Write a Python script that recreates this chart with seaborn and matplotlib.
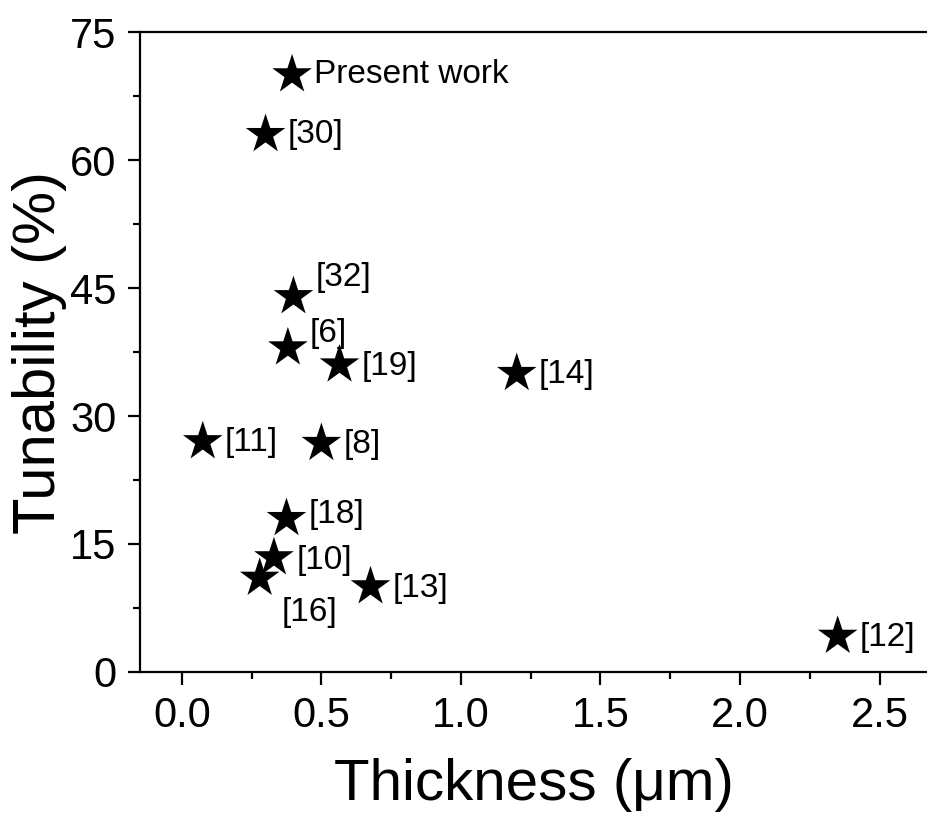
import matplotlib
matplotlib.use("Agg")
import matplotlib.pyplot as plt
from matplotlib.ticker import MultipleLocator, FormatStrFormatter
import seaborn as sns
import pandas as pd

# Film thickness (um) vs. tunability (%) with literature references
thickness = [0.395, 0.30, 0.40, 0.38, 0.565, 1.20, 0.075, 0.50, 0.375, 0.33, 0.279, 0.676, 2.35]
tunability = [70.0, 63.0, 44.0, 38.0, 36.0, 35.0, 27.0, 26.8, 18.0, 13.4, 11.0, 10.0, 4.2]
labels = ["Present work", "[30]", "[32]", "[6]", "[19]", "[14]", "[11]", "[8]",
          "[18]", "[10]", "[16]", "[13]", "[12]"]

# label offsets from each star, in points
label_offsets = [(16, 0), (16, 0), (16, 14), (16, 10), (16, -1), (16, -1), (16, -1),
                 (16, -1), (16, 3), (16, -2), (16, -25), (16, -1), (16, -1)]

df = pd.DataFrame({"Thickness": thickness, "Tunability": tunability, "Label": labels})

sns.set_style("ticks")
plt.rcParams["font.family"] = ["Liberation Sans", "DejaVu Sans"]
for key in ["text.color", "axes.labelcolor", "xtick.color", "ytick.color", "axes.edgecolor"]:
    plt.rcParams[key] = "black"

fig = plt.figure(figsize=(9.27, 8.21), dpi=100)
ax = fig.add_axes([0.151, 0.1815, 0.849, 0.7795])

sns.scatterplot(data=df, x="Thickness", y="Tunability", marker="*", s=900,
                color="black", edgecolor="none", linewidth=0, ax=ax, zorder=3)

for x, y, lab, (dx, dy) in zip(thickness, tunability, labels, label_offsets):
    ax.annotate(lab, (x, y), xytext=(dx, dy), textcoords="offset points",
                ha="left", va="center", fontsize=24, color="black")

ax.set_xlim(-0.15, 2.67)
ax.set_ylim(0, 75)
ax.xaxis.set_major_locator(MultipleLocator(0.5))
ax.xaxis.set_minor_locator(MultipleLocator(0.25))
ax.yaxis.set_major_locator(MultipleLocator(15))
ax.yaxis.set_minor_locator(MultipleLocator(7.5))
ax.xaxis.set_major_formatter(FormatStrFormatter("%.1f"))

ax.tick_params(which="major", direction="out", length=9, width=1.6, labelsize=30, pad=8,
               colors="black")
ax.tick_params(which="minor", direction="out", length=5, width=1.6, colors="black")
ax.tick_params(axis="x", top=False)

for side in ["left", "bottom", "top"]:
    ax.spines[side].set_linewidth(1.6)
    ax.spines[side].set_color("black")
ax.spines["right"].set_visible(False)

ax.set_xlabel("Thickness (\u03bcm)", fontsize=42, labelpad=16, color="black")
ax.set_ylabel("Tunability (%)", fontsize=43, labelpad=2, color="black")

fig.savefig("out.png", dpi=100)
